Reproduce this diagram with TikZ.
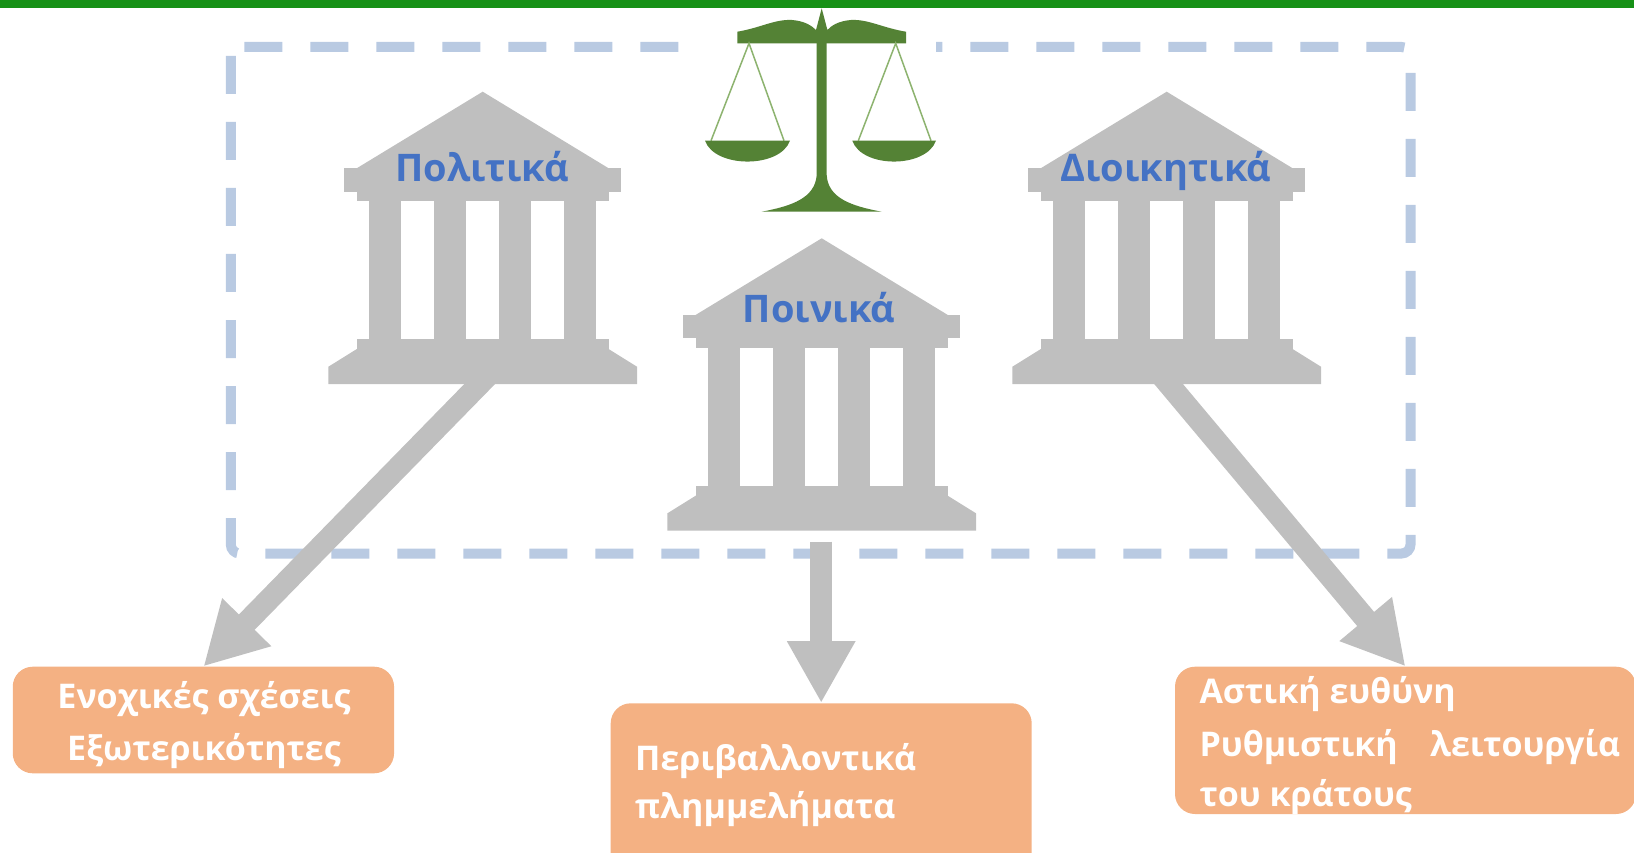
\documentclass[tikz,border=0pt]{standalone}
\usepackage{fontspec}
\setmainfont{Open Sans}
\usetikzlibrary{arrows.meta}
\definecolor{templegray}{HTML}{BFBFBF}
\definecolor{labelblue}{HTML}{4472C4}
\definecolor{boxorange}{HTML}{F4B183}
\definecolor{dashblue}{HTML}{B9CAE2}
\definecolor{scalegreen}{HTML}{548235}
\definecolor{stringgreen}{HTML}{8DB36F}
\definecolor{bandgreen}{RGB}{23,145,23}
\tikzset{
  temple/.pic={
    \fill[templegray] (0,0) -- (126,76.6) -- (-126,76.6) -- cycle;
    \fill[templegray] (-138.4,76.6) rectangle (138.4,100);
    \fill[templegray] (-126,99.5) rectangle (126,109.5);
    \foreach \a/\b in {-113.7/-81.7,-48.7/-16.5,16.5/48.7,81.7/113.7}
      \fill[templegray] (\a,109) rectangle (\b,248);
    \fill[templegray] (-126,247.6) rectangle (126,257.6);
    \fill[templegray] (-126,257.4) -- (126,257.4) -- (154.3,275) -- (154.3,292.3)
      -- (-154.3,292.3) -- (-154.3,275) -- cycle;
  },
  templelabel/.style={text=labelblue, font=\bfseries\fontsize{38}{46}\selectfont, inner sep=0pt, anchor=base},
  infobox/.style={fill=boxorange, rounded corners=20pt, inner sep=0pt, draw=none},
  boxtext/.style={text=white, font=\bfseries\fontsize{34}{41}\selectfont, inner sep=0pt},
  blockarrow/.style={draw=templegray, line width=22pt, line cap=butt,
    -{Triangle[width=64pt,length=62pt]}},
  dashbox/.style={draw=dashblue, line width=10pt, dash pattern=on 38pt off 28pt, rounded corners=9pt},
}
\begin{document}
\begin{tikzpicture}[x=1pt,y=-1pt]
\useasboundingbox (0,0) rectangle (1634,853);
% top band
\fill[bandgreen] (0,0) rectangle (1634,8);
% dashed frame
\draw[dashbox] (230.8,47) rectangle (1410.5,553.5);
% white ground behind the scales
\fill[white] (686,9) rectangle (936,214);
% info boxes
\node[infobox, minimum width=381.3pt, minimum height=106.6pt] (lbox) at (203.4,720) {};
\node[infobox, minimum width=421pt, minimum height=200pt] (mbox) at (821.2,803.3) {};
\node[infobox, minimum width=461pt, minimum height=147.3pt] (rbox) at (1405.5,740.35) {};
% arrow starts
\coordinate (sl) at (493.7,369.7);
\coordinate (sm) at (821.2,541.7);
\coordinate (sr) at (1155.8,368.8);
\draw[blockarrow] (sl) -- (lbox.north);
\draw[blockarrow] (sm) -- (mbox.north);
\draw[blockarrow] (sr) -- (rbox.north);
% temples
\pic at (482.7,91.7) {temple};
\pic at (821.7,238.3) {temple};
\pic at (1166.7,91.7) {temple};
\node[templelabel] (tpol) at (482.2,181.7) {Πολιτικά};
\node[templelabel] (tpoi) at (819.2,322.7) {Ποινικά};
\node[templelabel] (tdio) at (1165.8,181.7) {Διοικητικά};
% scales of justice
\fill[scalegreen] (737.3,43.3) -- (737.3,31.7) .. controls (760,28) and (775,19) .. (792,20)
  .. controls (805,21) and (812,26) .. (816,30) -- (821.7,8.3) -- (827.4,30)
  .. controls (831,26) and (838,21) .. (851,20) .. controls (868,19) and (883,28) .. (906,31.7)
  -- (906,43.3) -- cycle;
\fill[scalegreen] (816.7,43) -- (816.7,175) .. controls (815,198) and (792,206) .. (761.7,211.7)
  -- (881.7,211.7) .. controls (851,206) and (828,198) .. (826.7,175) -- (826.7,43) -- cycle;
\draw[stringgreen, line width=1.5pt] (711,140.7) -- (749,43.3) -- (784,140.7);
\draw[stringgreen, line width=1.5pt] (858.3,140.7) -- (895.7,43.3) -- (931,140.7);
\fill[scalegreen] (705,140.7) -- (790,140.7) .. controls (780,168.5) and (715,168.5) .. (705,140.7) -- cycle;
\fill[scalegreen] (852.3,140.7) -- (936,140.7) .. controls (926,168.5) and (862,168.5) .. (852.3,140.7) -- cycle;
% box texts
\node[boxtext, anchor=base] (l1) at (204,708) {Ενοχικές σχέσεις};
\node[boxtext, anchor=base] (l2) at (204,760) {Εξωτερικότητες};
\node[boxtext, anchor=base west] (m1) at (635,770) {Περιβαλλοντικά};
\node[boxtext, anchor=base west] (m2) at (635,818.3) {πλημμελήματα};
\node[boxtext, anchor=base west] (r1) at (1199.3,703.3) {Αστική ευθύνη};
\node[boxtext, anchor=base west] (r2) at (1199.3,756.7) {\makebox[420.7pt][s]{Ρυθμιστική λειτουργία}};
\node[boxtext, anchor=base west] (r3) at (1199.3,806.7) {του κράτους};
\end{tikzpicture}
\end{document}
